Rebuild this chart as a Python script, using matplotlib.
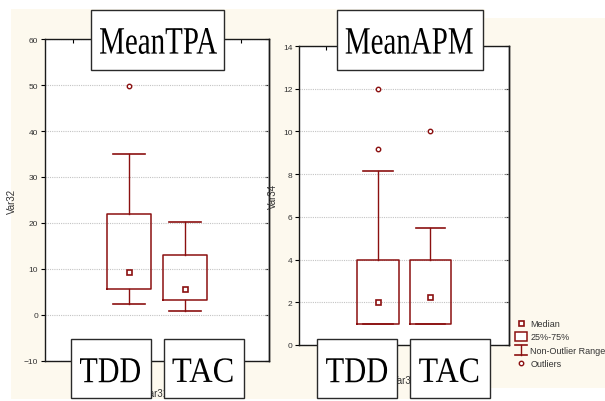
import matplotlib
matplotlib.use("Agg")
import matplotlib.pyplot as plt
from matplotlib.patches import Rectangle
from matplotlib.patheffects import AbstractPathEffect
from matplotlib.transforms import Affine2D

# ---------------- data ----------------
categories = ["TDD", "TAC"]
positions = [1, 2]

tpa_title = "MeanTPA"
tpa_median = [9.3, 5.7]
tpa_q1 = [5.7, 3.3]
tpa_q3 = [21.9, 13.1]
tpa_whislo = [2.4, 0.9]
tpa_whishi = [35.0, 20.2]
tpa_outliers = [[49.8], []]
tpa_yticks = [-10, 0, 10, 20, 30, 40, 50, 60]

apm_title = "MeanAPM"
apm_median = [2.0, 2.25]
apm_q1 = [1.0, 1.0]
apm_q3 = [4.0, 4.0]
apm_whislo = [1.0, 1.0]
apm_whishi = [8.15, 5.5]
apm_outliers = [[12.0, 9.2], [10.0]]
apm_yticks = [0, 2, 4, 6, 8, 10, 12, 14]

legend_labels = ["Median", "25%-75%", "Non-Outlier Range", "Outliers"]

# ---------------- style ----------------
W, H = 605, 402
RED = "#8b1010"
CREAM = "#fdf9ee"
NARROW = ["Liberation Sans Narrow", "Liberation Sans", "DejaVu Sans"]
SERIF = ["Liberation Serif", "DejaVu Serif"]


class FitText(AbstractPathEffect):
    """Rescale the rendered glyph path so it fills a target size/position (pixels)."""

    def __init__(self, cx, cy, width, height):
        super().__init__()
        self.cx, self.cy, self.w, self.h = cx, H - cy, width, height

    def draw_path(self, renderer, gc, tpath, affine, rgbFace=None):
        ext = tpath.get_extents(affine)
        sx = self.w / ext.width
        sy = self.h / ext.height
        ccx = (ext.x0 + ext.x1) / 2
        ccy = (ext.y0 + ext.y1) / 2
        a = affine + Affine2D().translate(-ccx, -ccy).scale(sx, sy).translate(self.cx, self.cy)
        renderer.draw_path(gc, tpath, a, rgbFace)


fig = plt.figure(figsize=(W / 100, H / 100), dpi=100)
fig.patch.set_facecolor("white")

bg = fig.add_axes([0, 0, 1, 1])
bg.set_xlim(0, W)
bg.set_ylim(H, 0)
bg.axis("off")
bg.add_patch(Rectangle((11, 10), 474, 390, fc=CREAM, ec="none"))
bg.add_patch(Rectangle((485, 19), 120, 370, fc=CREAM, ec="none"))


def make_panel(rect_px, med, q1, q3, wlo, whi, outl, yticks, ylabel, xlabel, ylab_x, xlab_y):
    x0, y0, x1, y1 = rect_px
    ax = fig.add_axes([x0 / W, (H - y1) / H, (x1 - x0) / W, (y1 - y0) / H])
    ax.set_facecolor("white")
    stats = []
    for i in range(len(categories)):
        stats.append(dict(med=med[i], q1=q1[i], q3=q3[i], whislo=wlo[i],
                          whishi=whi[i], fliers=outl[i], label=categories[i]))
    ax.bxp(stats, positions=positions, widths=0.79, capwidths=0.56,
           manage_ticks=False,
           boxprops=dict(color=RED, linewidth=1.1),
           whiskerprops=dict(color=RED, linewidth=1.0),
           capprops=dict(color=RED, linewidth=1.2),
           medianprops=dict(linestyle="none"),
           flierprops=dict(marker="o", markersize=3.2, markerfacecolor="white",
                           markeredgecolor=RED, markeredgewidth=1.0, linestyle="none"))
    ax.plot(positions, med, linestyle="none", marker="s", markersize=3.6,
            markerfacecolor="white", markeredgecolor=RED, markeredgewidth=1.2, zorder=4)
    ax.set_xlim(-0.5, 3.5)
    ax.set_ylim(yticks[0], yticks[-1])
    ax.set_yticks(yticks)
    ax.set_xticks([0, 1, 2, 3])
    ax.tick_params(axis="x", bottom=False, top=True, direction="in", length=3,
                   labelbottom=False, labeltop=False, width=0.8)
    ax.tick_params(axis="y", left=True, right=False, direction="out", length=3,
                   width=0.8, labelsize=6, labelcolor="#333333", pad=2)
    for lab in ax.get_yticklabels():
        lab.set_family(NARROW)
    sec = ax.secondary_yaxis("right")
    sec.set_yticks(yticks)
    sec.tick_params(direction="in", length=3, width=0.8, labelright=False)
    sec.spines["right"].set_linewidth(1.0)
    ax.yaxis.grid(True, color="#c4c4c4", linestyle=(0, (1, 1)), linewidth=0.8)
    ax.set_axisbelow(True)
    for s in ax.spines.values():
        s.set_linewidth(1.0)
        s.set_color("#1a1a1a")
    ax.set_ylabel(ylabel, fontsize=7, family=NARROW, color="#333333")
    ax.yaxis.set_label_coords(ylab_x, 0.5)
    ax.set_xlabel(xlabel, fontsize=7, family=NARROW, color="#333333")
    ax.xaxis.set_label_coords(0.5, xlab_y)
    return ax


ax1 = make_panel((45, 40, 269, 362), tpa_median, tpa_q1, tpa_q3, tpa_whislo, tpa_whishi,
                 tpa_outliers, tpa_yticks, "Var32", "Var31", -0.125, -0.085)
ax2 = make_panel((299.3, 47, 509, 346), apm_median, apm_q1, apm_q3, apm_whislo, apm_whishi,
                 apm_outliers, apm_yticks, "Var34", "Var33", -0.10, -0.10)

# ---------------- overlay: title / category boxes and legend ----------------
ov = fig.add_axes([0, 0, 1, 1])
ov.set_xlim(0, W)
ov.set_ylim(H, 0)
ov.axis("off")
ov.set_zorder(10)


def label_box(x0, y0, x1, y1, text, tcx, tcy, tw, th):
    ov.add_patch(Rectangle((x0, y0), x1 - x0, y1 - y0, fc="white", ec="#2a2a2a", lw=1.0))
    t = ov.text((x0 + x1) / 2, (y0 + y1) / 2, text, ha="center", va="center",
                fontsize=18, family=SERIF, color="black")
    t.set_path_effects([FitText(tcx, tcy, tw, th)])


label_box(91, 11, 224, 71, tpa_title, 158.5, 42, 117, 26)
label_box(337, 11, 483, 71, apm_title, 409.2, 42, 127, 26)
label_box(71, 340, 151, 399, categories[0], 110, 371.3, 60, 24)
label_box(164, 340, 244, 399, categories[1], 202.5, 371.3, 60, 24)
label_box(317, 340, 397, 399, categories[0], 356.6, 371.3, 61, 24)
label_box(410, 340, 490, 399, categories[1], 448.7, 371.3, 59, 24)

# legend
lx = 521
ov.plot([lx], [324.2], linestyle="none", marker="s", markersize=3.6,
        markerfacecolor="white", markeredgecolor=RED, markeredgewidth=1.2)
ov.add_patch(Rectangle((515.3, 332.5), 12, 9.5, fc="white", ec=RED, lw=1.1))
ov.plot([lx, lx], [345.7, 355.7], color=RED, lw=1.0)
ov.plot([515.3, 527.3], [345.7, 345.7], color=RED, lw=1.2)
ov.plot([515.3, 527.3], [355.7, 355.7], color=RED, lw=1.2)
ov.plot([lx], [364.3], linestyle="none", marker="o", markersize=3.2,
        markerfacecolor="white", markeredgecolor=RED, markeredgewidth=1.0)
for lab, yy in zip(legend_labels, [324.2, 337.5, 351.7, 364.3]):
    ov.text(530.5, yy, lab, ha="left", va="center", fontsize=6.5,
            family=NARROW, color="#333333")

fig.savefig("out.png", dpi=100, facecolor="white")
